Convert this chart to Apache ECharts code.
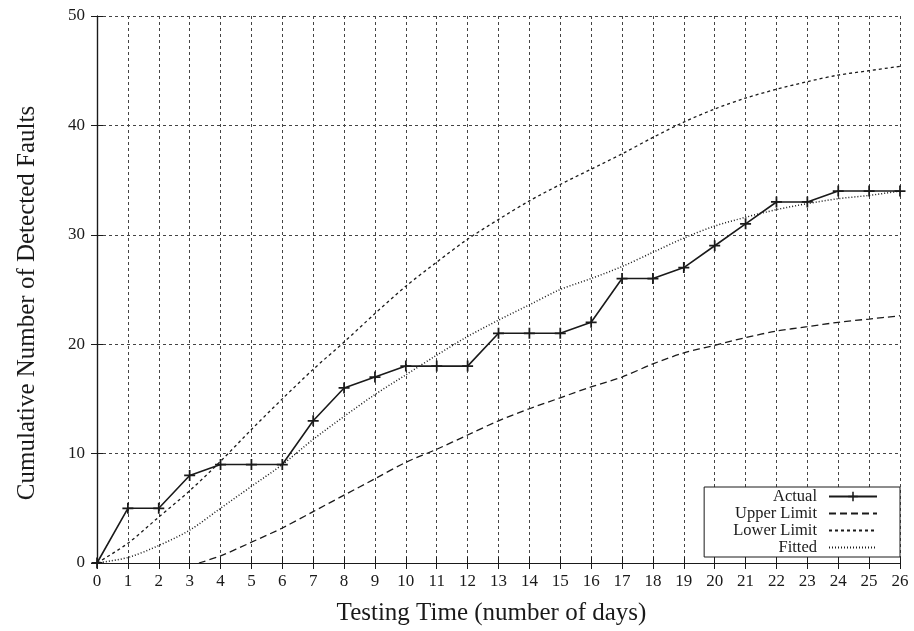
<!DOCTYPE html>
<html>
<head>
<meta charset="utf-8">
<script src="https://cdn.jsdelivr.net/npm/echarts@6/dist/echarts.min.js"></script>
<style>
    html, body { margin: 0; padding: 0; background: #fff; }
    #chart { width: 914px; height: 631px; }
</style>
</head>
<body>
<div id="chart"></div>
<script>
    // testing days
    var days = [0, 1, 2, 3, 4, 5, 6, 7, 8, 9, 10, 11, 12, 13, 14, 15, 16, 17, 18, 19, 20, 21, 22, 23, 24, 25, 26];
    // cumulative detected faults
    var actual = [0, 5, 5, 8, 9, 9, 9, 13, 16, 17, 18, 18, 18, 21, 21, 21, 22, 26, 26, 27, 29, 31, 33, 33, 34, 34, 34];
    var fitted = [0, 0.5, 1.6, 3.0, 5.0, 7.0, 9.0, 11.3, 13.4, 15.4, 17.2, 19.0, 20.7, 22.2, 23.6, 25.0, 26.0, 27.1, 28.4, 29.7, 30.8, 31.6, 32.3, 32.85, 33.3, 33.6, 34.0];
    var lowerLimit = [0, 1.8, 4.2, 6.6, 9.3, 12.2, 15.0, 17.7, 20.2, 22.8, 25.3, 27.5, 29.6, 31.4, 33.1, 34.6, 36.0, 37.4, 38.9, 40.3, 41.5, 42.5, 43.3, 44.0, 44.6, 45.0, 45.4];
    // upper limit curve starts above zero only after day ~3.3
    var upperDays = [3.3, 4, 5, 6, 7, 8, 9, 10, 11, 12, 13, 14, 15, 16, 17, 18, 19, 20, 21, 22, 23, 24, 25, 26];
    var upperLimit = [0, 0.65, 1.9, 3.2, 4.7, 6.2, 7.7, 9.2, 10.4, 11.7, 13.0, 14.1, 15.1, 16.1, 17.0, 18.2, 19.2, 19.9, 20.6, 21.2, 21.6, 22.0, 22.3, 22.6];

    var seriesNames = ['Actual', 'Upper Limit', 'Lower Limit', 'Fitted'];

    function pairs(xs, ys) {
        var out = [];
        for (var i = 0; i < xs.length; i++) {
            out.push([xs[i], ys[i]]);
        }
        return out;
    }

    var FONT = 'Liberation Serif';
    var INK = '#1a1a1a';
    // plus marker
    var plus = 'path://M-0.08,-0.5H0.08V-0.08H0.5V0.08H0.08V0.5H-0.08V0.08H-0.5V-0.08H-0.08Z';

    var chart = echarts.init(document.getElementById('chart'));

    var gridDash = { color: '#444', width: 1, type: [3, 3] };

    // legend: no marker for the plain curves
    var legendData = seriesNames.map(function (n) {
        if (n === 'Actual') return { name: n };
        return { name: n, itemStyle: { opacity: 0 } };
    });

    var option = {
        backgroundColor: '#fff',
        animation: false,
        textStyle: { fontFamily: FONT, color: INK },
        grid: { left: 97, right: 14, top: 16, bottom: 66 },
        legend: {
            data: legendData,
            orient: 'vertical',
            align: 'right',
            right: 14,
            bottom: 74,
            itemWidth: 48,
            itemHeight: 12,
            itemGap: 0,
            padding: [1, 22, 1, 29],
            backgroundColor: '#fff',
            borderColor: INK,
            borderWidth: 1,
            borderRadius: 0,
            textStyle: { fontFamily: FONT, fontSize: 16.5, lineHeight: 15, color: INK, padding: [0, 7, 0, 0] }
        },
        xAxis: [{
            type: 'value',
            min: 0,
            max: 26,
            interval: 1,
            name: 'Testing Time (number of days)',
            nameLocation: 'middle',
            nameGap: 38,
            nameTextStyle: { fontFamily: FONT, fontSize: 25, color: INK, padding: [0, 14, 0, 0] },
            axisLine: { lineStyle: { color: INK, width: 1.2 } },
            axisTick: { inside: true, length: 6, lineStyle: { color: INK } },
            axisLabel: { fontFamily: FONT, fontSize: 17, color: INK, margin: 10 },
            splitLine: { show: true, lineStyle: gridDash }
        }, {
            type: 'value',
            position: 'top',
            min: 0,
            max: 26,
            interval: 1,
            axisLine: { lineStyle: { color: INK, width: 1.2 } },
            axisTick: { inside: true, length: 6, lineStyle: { color: INK } },
            axisLabel: { show: false },
            splitLine: { show: false }
        }],
        yAxis: [{
            type: 'value',
            min: 0,
            max: 50,
            interval: 10,
            name: 'Cumulative Number of Detected Faults',
            nameLocation: 'middle',
            nameGap: 57,
            nameTextStyle: { fontFamily: FONT, fontSize: 25, color: INK, padding: [0, 27, 0, 0] },
            axisLine: { show: true, lineStyle: { color: INK, width: 1.2 } },
            axisTick: { show: true, inside: true, length: 6, lineStyle: { color: INK } },
            axisLabel: { fontFamily: FONT, fontSize: 17, color: INK, margin: 12 },
            splitLine: { show: true, lineStyle: gridDash }
        }, {
            type: 'value',
            position: 'right',
            min: 0,
            max: 50,
            interval: 10,
            axisLine: { show: true, lineStyle: { color: INK, width: 1.2 } },
            axisTick: { show: true, inside: true, length: 6, lineStyle: { color: INK } },
            axisLabel: { show: false },
            splitLine: { show: false }
        }],
        series: [{
            name: 'Actual',
            type: 'line',
            data: pairs(days, actual),
            symbol: plus,
            symbolSize: 11,
            showAllSymbol: true,
            itemStyle: { color: INK },
            lineStyle: { color: INK, width: 1.6 },
            z: 5
        }, {
            name: 'Upper Limit',
            type: 'line',
            data: pairs(upperDays, upperLimit),
            symbol: 'none',
            smooth: 0.3,
            itemStyle: { color: INK },
            lineStyle: { color: INK, width: 1.3, type: [7, 4] }
        }, {
            name: 'Lower Limit',
            type: 'line',
            data: pairs(days, lowerLimit),
            symbol: 'none',
            smooth: 0.3,
            itemStyle: { color: INK },
            lineStyle: { color: INK, width: 1.3, type: [3, 3] }
        }, {
            name: 'Fitted',
            type: 'line',
            data: pairs(days, fitted),
            symbol: 'none',
            smooth: 0.3,
            itemStyle: { color: INK },
            lineStyle: { color: INK, width: 1.5, type: [1, 2] }
        }]
    };

    chart.setOption(option);
</script>
</body>
</html>
